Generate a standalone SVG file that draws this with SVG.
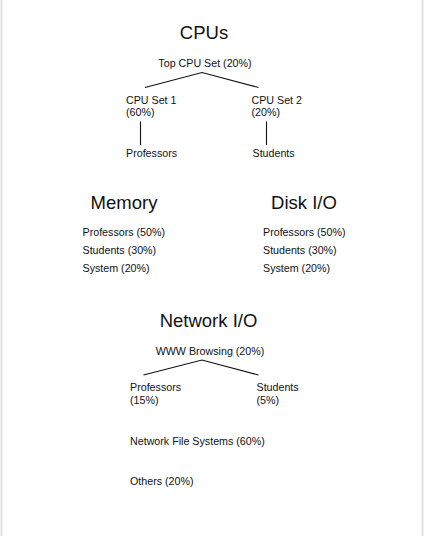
<svg xmlns="http://www.w3.org/2000/svg" width="424" height="536" viewBox="0 0 424 536">
<style>
.t{font-family:"Liberation Sans",Arial,sans-serif;font-size:18.5px;fill:#111;text-anchor:middle}
.s{font-family:"Liberation Sans",Arial,sans-serif;font-size:10.7px;fill:#111}
.c{font-family:"Liberation Sans",Arial,sans-serif;font-size:10.7px;fill:#111;text-anchor:middle}
.e{stroke:#111;stroke-width:1.1;fill:none}
</style>
<rect width="424" height="536" fill="#fff"/>
<line x1="1.5" y1="0" x2="1.5" y2="536" stroke="#e2e2e2" stroke-width="2"/>
<line x1="422.5" y1="0" x2="422.5" y2="536" stroke="#e2e2e2" stroke-width="2"/>
<g id="titles">
<text class="t" x="204" y="38.5">CPUs</text>
<text class="t" x="124" y="209">Memory</text>
<text class="t" x="304" y="209">Disk I/O</text>
<text class="t" x="208.5" y="327">Network I/O</text>
</g>
<g id="cpu-top"><text class="c" x="205" y="67">Top CPU Set (20%)</text></g>
<g id="cpu-set1"><text class="s" x="126" y="103.5">CPU Set 1<tspan x="126" dy="12.7">(60%)</tspan></text></g>
<g id="cpu-set2"><text class="s" x="251.5" y="103.5">CPU Set 2<tspan x="251.5" dy="12.7">(20%)</tspan></text></g>
<g id="cpu-professors"><text class="s" x="126" y="157">Professors</text></g>
<g id="cpu-students"><text class="s" x="252.5" y="157">Students</text></g>
<g id="memory-list">
<text class="s" x="82.5" y="236">Professors (50%)</text>
<text class="s" x="82.5" y="254">Students (30%)</text>
<text class="s" x="82.5" y="272">System (20%)</text>
</g>
<g id="disk-list">
<text class="s" x="263" y="236">Professors (50%)</text>
<text class="s" x="263" y="254">Students (30%)</text>
<text class="s" x="263" y="272">System (20%)</text>
</g>
<g id="net-www"><text class="c" x="210" y="355">WWW Browsing (20%)</text></g>
<g id="net-professors"><text class="s" x="130" y="391">Professors<tspan x="130" dy="12.7">(15%)</tspan></text></g>
<g id="net-students"><text class="s" x="256.5" y="391">Students<tspan x="256.5" dy="12.7">(5%)</tspan></text></g>
<g id="net-nfs"><text class="s" x="130" y="445">Network File Systems (60%)</text></g>
<g id="net-others"><text class="s" x="130" y="485">Others (20%)</text></g>
<g id="connectors">
<polyline class="e" points="145,87.5 202,72.5 258.5,87.5"/>
<line class="e" x1="140.5" y1="121.5" x2="140.5" y2="145"/>
<line class="e" x1="266.5" y1="121.5" x2="266.5" y2="145"/>
<polyline class="e" points="143.5,375 202,360 258.5,375"/>
</g>
</svg>
